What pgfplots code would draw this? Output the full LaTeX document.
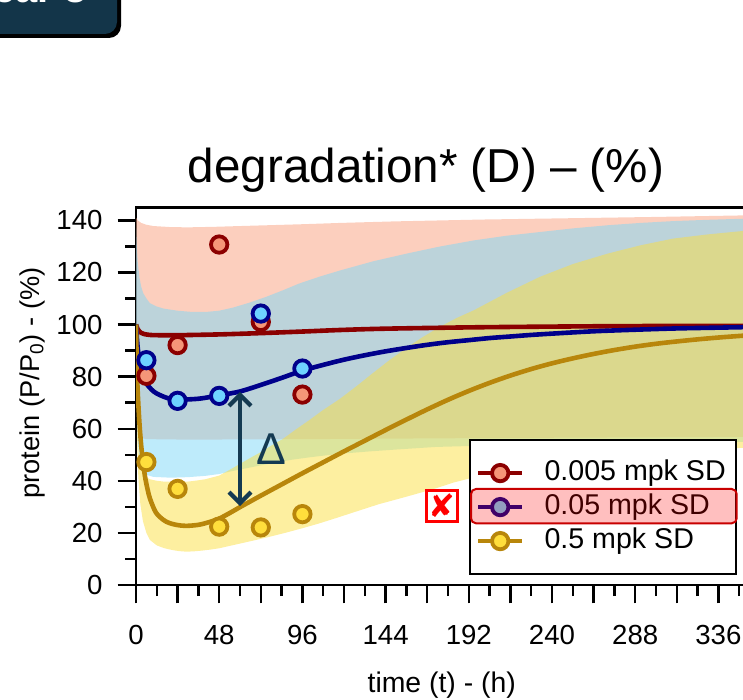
\documentclass[border=0pt]{standalone}
\usepackage{fontspec}
\setmainfont{Liberation Sans}
\newfontfamily\djv{DejaVu Sans}
\usepackage{pgfplots}
\pgfplotsset{compat=1.18}
\usetikzlibrary{arrows.meta}
\definecolor{bandR}{RGB}{249,159,125}
\definecolor{bandB}{RGB}{125,215,247}
\definecolor{bandY}{RGB}{251,223,65}
\definecolor{lnR}{RGB}{139,0,0}
\definecolor{lnB}{RGB}{0,0,139}
\definecolor{lnY}{RGB}{184,134,11}
\definecolor{mkR}{RGB}{245,150,120}
\definecolor{mkB}{RGB}{110,210,255}
\definecolor{mkY}{RGB}{255,222,60}
\definecolor{navyA}{RGB}{20,58,82}
\definecolor{boxdark}{RGB}{19,53,73}
\definecolor{hlred}{RGB}{200,0,0}
\begin{document}
\begin{tikzpicture}[x=1pt,y=1pt]
% top-left banner (cropped by the page)
\fill[black, rounded corners=6pt] (-12,331) rectangle (60.5,372);
\fill[boxdark, rounded corners=6pt] (-12,333) rectangle (58.5,372);
\node[white, font=\bfseries\fontsize{20}{24}\selectfont, anchor=base east, inner sep=0pt] at (43.5,348.5) {Year 3};
\begin{axis}[
  at={(68pt,57.5pt)}, anchor=south west,
  scale only axis, width=312pt, height=188.85pt,
  xmin=0, xmax=360, ymin=0, ymax=145,
  axis line style={line width=1.3pt},
  tick align=outside, tick pos=left,
  major tick length=9.2pt, minor tick length=5.5pt,
  every tick/.style={black, line width=1.2pt},
  xtick={0,24,...,360},
  xticklabels={0,,48,,96,,144,,192,,240,,288,,336,,},
  minor x tick num=1,
  ytick={0,20,...,140}, minor y tick num=1,
  /pgf/number format/assume math mode=true,
  ticklabel style={font=\fontsize{13.8}{16}\selectfont},
  xticklabel style={yshift=-7.5pt},
  yticklabel style={xshift=-4pt},
  title={degradation* (D) – (\%)},
  title style={font=\fontsize{23.8}{28}\selectfont, at={(axis description cs:0.4647,1.0326)}, anchor=base, inner sep=0pt},
  xlabel={time (t) - (h)},
  xlabel style={font=\fontsize{14.2}{17}\selectfont, at={(axis description cs:0.490,-0.2648)}, anchor=center},
  ylabel={protein (P/P\textsubscript{0}) - (\%)},
  ylabel style={font=\fontsize{13.6}{16}\selectfont, at={(axis description cs:-0.1667,0.5348)}, anchor=center},
  legend image code/.code={\draw[mark repeat=2,mark phase=2,#1] plot coordinates {(0pt,0pt) (11pt,0pt) (22pt,0pt)};},
  legend style={at={(0.5337,0.0265)}, anchor=south west, draw=black, line width=0.9pt, fill=white,
    font=\fontsize{14.3}{17}\selectfont, inner xsep=3pt, inner ysep=8pt, row sep=0pt,
    /tikz/every odd column/.append style={column sep=8pt},
    nodes={inner ysep=1.5pt, text height=10.5pt, text depth=3.5pt}},
  legend cell align=left,
]
% ---- bands (upper edge forward, lower edge back) ----
\addplot[fill=bandR, fill opacity=0.5, draw=none, forget plot] coordinates {(0,141)(1,140)(3,139)(6,138.3)(10,137.8)(20,137.4)(30,137.3)(45,137.5)(60,137.8)(96,138.5)(118,139)(150,139.6)(200,140.3)(250,140.8)(300,141.3)(360,142)
 (360,56.9)(200,56.4)(100,56)(30,55.8)(6,56)(3,56.4)(2,57.5)(1.5,59)(1,63)(0.7,68)(0.3,82)(0,100)} -- cycle;
\addplot[fill=bandB, fill opacity=0.5, draw=none, forget plot] coordinates {(0,140)(0.4,131)(1,124)(2,118)(3,114.5)(4.2,112)(6,110)(8,108.2)(12,106.9)(16,106.1)(24,105.3)(31,104.9)(40,104.8)(48,105.3)(56,106.5)(65,108.3)(75,110.6)(85,113.2)(94,115.7)(106,118.4)(118,120.8)(137,124.3)(156,127.2)(175,129.9)(195,132.3)(214,134.1)(233,135.5)(252,136.9)(272,138.1)(291,139)(310,139.7)(330,140.2)(350,140.6)(360,140.8)
 (360,55)(320,54.8)(280,54.5)(250,54.2)(220,53.8)(195,53.4)(173,53)(150,52)(135,51.3)(120,50.5)(110,49.8)(100,49)(90,48.1)(83,47.3)(74,46.2)(65,45)(56,43.8)(48,42.6)(40,41.9)(30,41.4)(20,41.2)(10,41.5)(6,42.3)(4,43.3)(2.5,46)(1.5,51)(1,56)(0.7,64)(0.3,82)(0,100)} -- cycle;
\addplot[fill=bandY, fill opacity=0.5, draw=none, forget plot] coordinates {(0,100)(0.3,80)(0.7,63)(1,57)(1.5,51)(2.5,45.5)(4,42.8)(6,41.4)(8,40.6)(12,40)(16,39.7)(24,39.6)(30,39.7)(35,40.1)(40,40.6)(48,42)(54,44.2)(60,46.5)(66,48.8)(72,51)(78,53.5)(84.6,56)(92,59.6)(100,63.3)(108,67.2)(117.7,71.5)(127,76.2)(136,81)(146,86.2)(156,91)(165,95)(175,99)(185,102.5)(195,105.5)(214,112.2)(233,118.3)(252,123.2)(272,127.2)(291,130.4)(310,133)(330,134.6)(350,135.9)(360,136.5)
 (360,53)(330,52)(300,50.5)(275,49.2)(250,47.5)(235,46.2)(220,44.5)(206,42.8)(193,41)(183,39.3)(173,37.1)(156,33.9)(140,31)(127,28.2)(115,25.6)(105,23.5)(96,21.8)(86,20)(77,18.5)(68,17.1)(60,15.9)(54,15)(48,14.1)(43,13.6)(38,13.2)(33,12.9)(29,12.8)(25,13)(22,13.3)(19,13.7)(16,14.2)(12,15.2)(8,17.3)(6,20)(4,24.5)(2.5,31)(1.5,40)(1,46)(0.7,56)(0.3,75)(0,100)} -- cycle;
% ---- model lines ----
\addplot[lnR, line width=2.3pt, smooth, tension=0.5, forget plot] coordinates {(0,100)(0.5,99)(1,98.2)(2,97.3)(3,96.8)(5,96.3)(8,96.0)(12,95.9)(24,95.9)(48,96.2)(72,96.7)(96,97.3)(118,97.9)(144,98.4)(192,98.9)(240,99.2)(288,99.4)(360,99.5)};
\addplot[lnB, line width=2.3pt, smooth, tension=0.5, forget plot] coordinates {(0,100)(0.5,95)(1,91)(2,86)(3,82.5)(4,80)(6,77.3)(9,75)(12,73.5)(18,71.8)(24,71.2)(36,71.5)(48,72.8)(60,74.3)(72,76.8)(84,79.5)(96,82.3)(108,84.5)(120,86.5)(132,88.2)(144,89.7)(156,91.0)(168,92.2)(180,93.2)(192,94.0)(204,94.8)(216,95.4)(228,96.0)(240,96.5)(264,97.4)(288,98.0)(312,98.5)(336,98.8)(360,99.1)};
\addplot[lnY, line width=2.3pt, smooth, tension=0.5, forget plot] coordinates {(0,100)(0.5,84)(1,74)(2,62)(3,53.5)(4,47.5)(5,42.5)(6,38.8)(8,33.3)(11.5,27.8)(15.8,25)(19.2,23.8)(24,23)(29,22.7)(36,23.1)(42,24.1)(48,25.5)(54,27.6)(60,29.9)(66,32.1)(72,34.3)(84,38.6)(96,42.9)(108,47.1)(120,51.3)(132,55.4)(144,59.5)(156,63.5)(168,67.4)(180,71.1)(192,74.5)(204,77.6)(216,80.4)(228,82.9)(240,85.1)(252,87.0)(264,88.7)(276,90.2)(288,91.5)(300,92.6)(312,93.5)(324,94.3)(336,95.0)(348,95.6)(360,96.1)};
% ---- observed points ----
\addplot[only marks, mark=*, mark size=4.1pt, mark options={fill=mkR, draw=lnR, line width=1.9pt}, forget plot] coordinates {(6,80.3)(24,92.1)(48,130.7)(72,101)(96,73.1)};
\addplot[only marks, mark=*, mark size=4.1pt, mark options={fill=mkB, draw=lnB, line width=1.9pt}, forget plot] coordinates {(6,86.3)(24,70.7)(48,72.6)(72,104.2)(96,83.1)};
\addplot[only marks, mark=*, mark size=4.1pt, mark options={fill=mkY, draw=lnY, line width=1.9pt}, forget plot] coordinates {(6,47.2)(24,36.9)(48,22.4)(72,22.1)(96,27.2)};
% ---- legend ----
\addlegendimage{lnR, line width=2.3pt, mark=*, mark size=4.1pt, mark options={fill=mkR, draw=lnR, line width=1.9pt}}
\addlegendentry{0.005 mpk SD\hspace{2.5pt}}
\addlegendimage{lnB, line width=2.3pt, mark=*, mark size=4.1pt, mark options={fill=mkB, draw=lnB, line width=1.9pt}}
\addlegendentry{0.05 mpk SD}
\addlegendimage{lnY, line width=2.3pt, mark=*, mark size=4.1pt, mark options={fill=mkY, draw=lnY, line width=1.9pt}}
\addlegendentry{0.5 mpk SD}
% ---- annotations ----
\draw[navyA, line width=2.1pt, {Straight Barb[length=5.5pt,width=11pt]}-{Straight Barb[length=5.5pt,width=11pt]}] (axis cs:60,74.1) -- (axis cs:60,30.3);
\node[navyA, font=\fontsize{22.3}{26}\selectfont, inner sep=0pt] at (axis cs:78.4,52.2) {Δ};
\end{axis}
\draw[hlred, line width=1pt, fill=red, fill opacity=0.25, rounded corners=2.5pt] (235.5,88.35) rectangle (368.35,105.5);
\node[draw=red, line width=1.5pt, fill=white, minimum size=15.5pt, inner sep=0pt, text=red, font=\djv\bfseries\fontsize{16}{16}\selectfont] at (221,97.1) {✘};
\pgfresetboundingbox
\path[use as bounding box] (0,0) rectangle (371.5,350);
\end{tikzpicture}
\end{document}
